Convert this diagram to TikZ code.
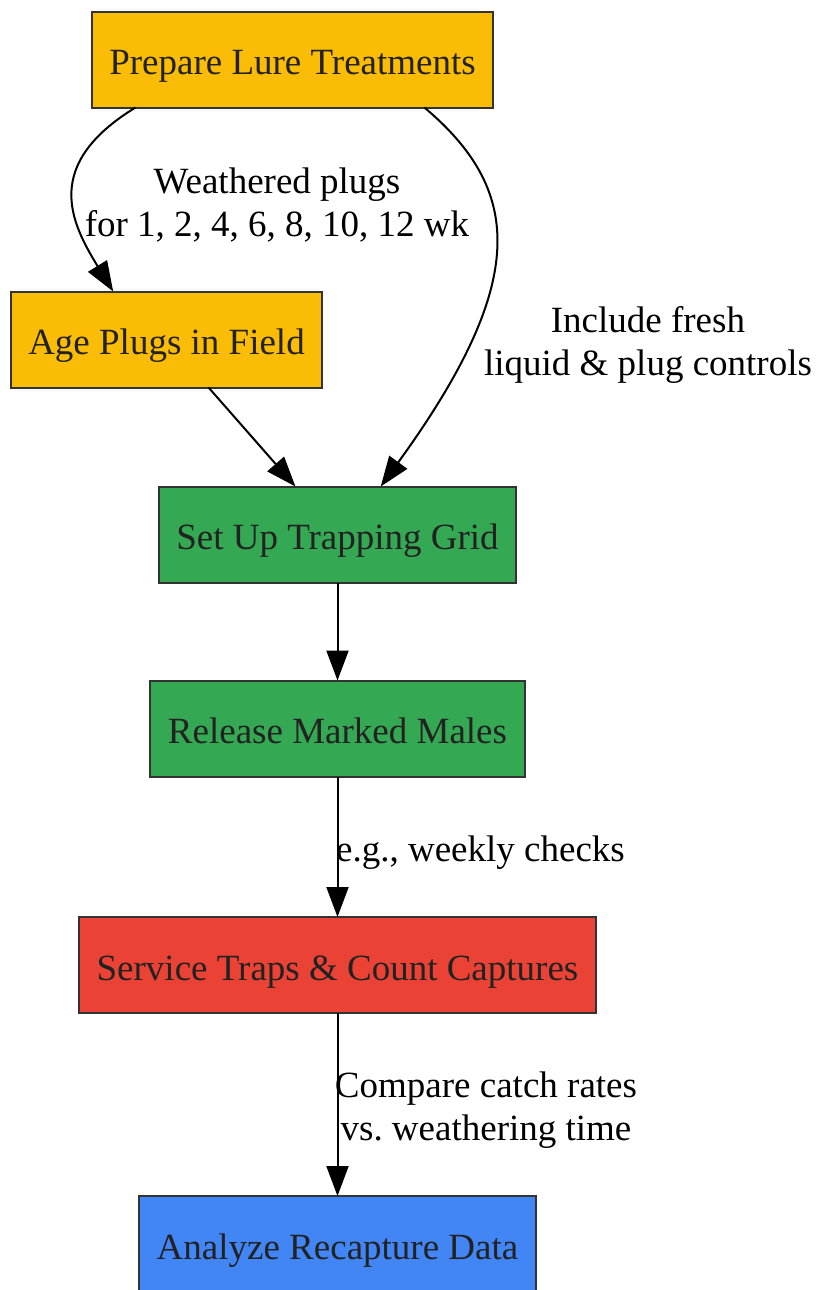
\documentclass[tikz,border=0pt]{standalone}
\usepackage{fontspec}
\setmainfont{Liberation Serif}
\usepackage{tikz}
\usetikzlibrary{arrows.meta}
\tikzset{>={Triangle[length=15pt,width=11pt]}}
\definecolor{lureyellow}{HTML}{FBBC05}
\definecolor{gridgreen}{HTML}{34A853}
\definecolor{trapred}{HTML}{EA4335}
\definecolor{datablue}{HTML}{4285F4}
\definecolor{boxline}{HTML}{333333}
\definecolor{boxtext}{HTML}{222222}
\frenchspacing

\begin{document}
\begin{tikzpicture}[x=0.5pt,y=-0.5pt,
    stepbox/.style={draw=boxline,line width=1pt,text=boxtext,outer sep=0pt,
      minimum height=48pt,inner xsep=8.75pt,text height=15.3pt,text depth=0pt,
      font=\fontsize{18.5}{21.5}\selectfont},
    elabel/.style={align=center,font=\fontsize{18.5}{21.5}\selectfont},
    flow/.style={->,line width=1pt}]
    \useasboundingbox (0,0) rectangle (816,1290);
    % steps
    \node[stepbox,fill=lureyellow] (prep) at (292.5,59.5) {Prepare Lure Treatments};
    \node[stepbox,fill=lureyellow] (age) at (166.5,339.5) {Age Plugs in Field};
    \node[stepbox,fill=gridgreen] (setup) at (337.5,534.5) {Set Up Trapping Grid};
    \node[stepbox,fill=gridgreen] (release) at (337.5,728.5) {Release Marked Males};
    \node[stepbox,fill=trapred] (service) at (337.5,965) {Service Traps \& Count Captures};
    \node[stepbox,fill=datablue] (analyze) at (337.5,1244) {Analyze Recapture Data};
    % connectors
    \draw[flow] (prep.197) .. controls +(-93,57) and +(-43,-70) .. (age.138);
    \draw[flow] (prep.340) .. controls +(97,82) and +(150,-207) .. (setup.48);
    \draw[flow] (age) -- (setup);
    \draw[flow] (setup) -- (release);
    \draw[flow] (release) -- (service);
    \draw[flow] (service) -- (analyze);
    % labels
    \node[elabel] (weathered) at (277,205) {Weathered plugs\\for 1, 2, 4, 6, 8, 10, 12 wk};
    \node[elabel] (controls) at (648,345) {Include fresh\\liquid \& plug controls};
    \node[elabel] (weekly) at (480.5,853) {e.g., weekly checks};
    \node[elabel] (compare) at (486,1110) {Compare catch rates\\vs. weathering time};
\end{tikzpicture}
\end{document}
